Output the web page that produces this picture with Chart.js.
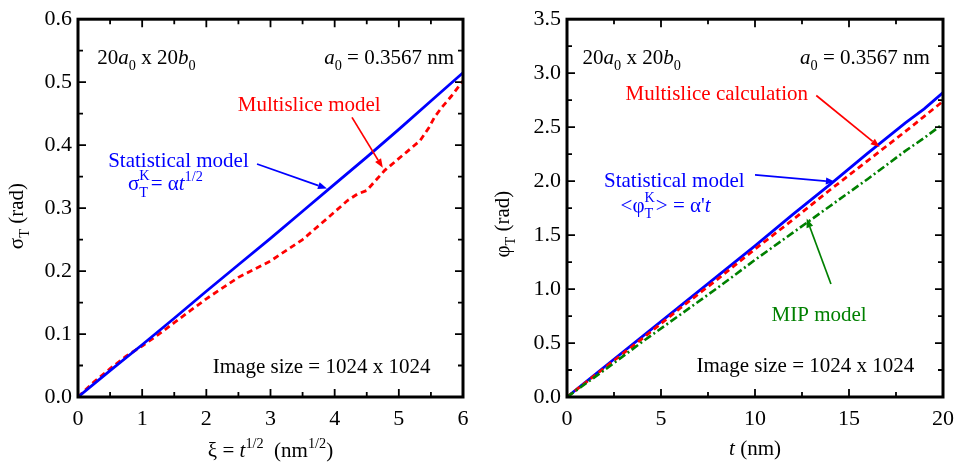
<!DOCTYPE html>
<html>
<head>
<meta charset="utf-8">
<script src="https://cdn.jsdelivr.net/npm/chart.js@4/dist/chart.umd.min.js"></script>
<style>
  html, body { margin: 0; padding: 0; background: #fff; }
  #wrap { position: relative; width: 963px; height: 470px; overflow: hidden; }
  #c1 { position: absolute; left: 0; top: 0; }
  #c2 { position: absolute; left: 480px; top: 0; }
</style>
</head>
<body>
<div id="wrap">
  <canvas id="c1" width="480" height="470"></canvas>
  <canvas id="c2" width="483" height="470"></canvas>
</div>
<script>
// ---------- Data ----------
// Left panel: sigma_T vs xi = t^(1/2)
const xiStat     = [0, 0.5, 1, 1.5, 2, 2.5, 3, 3.5, 4, 4.5, 5, 5.5, 6];
const sigmaStat  = [0, 0.042, 0.083, 0.125, 0.168, 0.210, 0.252, 0.295, 0.338, 0.381, 0.425, 0.470, 0.515];
const xiMulti    = [0, 0.25, 0.5, 0.75, 1.0, 1.25, 1.5, 1.75, 2.0, 2.5, 3.0, 3.5, 3.9, 4.2, 4.35, 4.5, 4.78, 5.12, 5.33, 5.47, 5.56, 5.67, 5.82, 6.0];
const sigmaMulti = [0, 0.024, 0.045, 0.065, 0.081, 0.099, 0.118, 0.137, 0.156, 0.190, 0.216, 0.250, 0.285, 0.312, 0.322, 0.328, 0.360, 0.389, 0.407, 0.428, 0.445, 0.460, 0.478, 0.502];

// Right panel: phi_T vs t
const tVals    = [0, 2, 4, 6, 8, 10, 12, 14, 16, 18, 19, 20];
const phiStat  = [0, 0.28, 0.56, 0.84, 1.12, 1.40, 1.69, 1.97, 2.26, 2.54, 2.67, 2.82];
const phiMulti = [0, 0.27, 0.54, 0.82, 1.09, 1.37, 1.64, 1.92, 2.19, 2.46, 2.60, 2.74];
const phiMIP   = [0, 0.25, 0.51, 0.76, 1.01, 1.27, 1.52, 1.77, 2.02, 2.28, 2.40, 2.53];

// Axis ranges / tick steps
const leftX  = { min: 0, max: 6,   step: 1,   minor: 0.5 };
const leftY  = { min: 0, max: 0.6, step: 0.1, minor: 0.05 };
const rightX = { min: 0, max: 20,  step: 5,   minor: 2.5 };
const rightY = { min: 0, max: 3.5, step: 0.5, minor: 0.25 };

// ---------- Helpers ----------
const FAMILY = '"Liberation Serif", "Times New Roman", serif';
const BLUE = '#0000ff', RED = '#ff0000', GREEN = '#008000';
const TXT = 21, TICK = 22;

function pts(xs, ys) { return xs.map((x, i) => ({ x, y: ys[i] })); }
function fontOf(size, it) { return (it ? 'italic ' : '') + size + 'px ' + FAMILY; }

// rich text: runs of {t, it, sub, sup, stack:{sub,sup}}
function measureRich(ctx, runs, size) {
  let w = 0;
  for (const r of runs) {
    if (r.stack) {
      ctx.font = fontOf(size * 0.68, false);
      w += Math.max(ctx.measureText(r.stack.sub).width, ctx.measureText(r.stack.sup).width) + 1;
    } else {
      ctx.font = fontOf((r.sub || r.sup) ? size * 0.68 : size, r.it);
      w += ctx.measureText(r.t).width;
    }
  }
  return w;
}
function drawRich(ctx, runs, x, y, align, size, color) {
  const w = measureRich(ctx, runs, size);
  let cx = align === 'right' ? x - w : align === 'center' ? x - w / 2 : x;
  ctx.fillStyle = color;
  ctx.textBaseline = 'alphabetic';
  ctx.textAlign = 'left';
  for (const r of runs) {
    if (r.stack) {
      ctx.font = fontOf(size * 0.68, false);
      const a = ctx.measureText(r.stack.sub).width;
      const b = ctx.measureText(r.stack.sup).width;
      ctx.fillText(r.stack.sub, cx, y + size * 0.32);
      ctx.fillText(r.stack.sup, cx, y - size * 0.45);
      cx += Math.max(a, b) + 1;
    } else {
      const s = (r.sub || r.sup) ? size * 0.68 : size;
      ctx.font = fontOf(s, r.it);
      const dy = r.sub ? size * 0.3 : r.sup ? -size * 0.42 : 0;
      ctx.fillText(r.t, cx, y + dy);
      cx += ctx.measureText(r.t).width;
    }
  }
}
function drawArrow(ctx, x1, y1, x2, y2, color) {
  ctx.save();
  ctx.strokeStyle = color; ctx.fillStyle = color; ctx.lineWidth = 1.7;
  const ang = Math.atan2(y2 - y1, x2 - x1);
  const hl = 9, hw = 3.5;
  const bx = x2 - hl * Math.cos(ang), by = y2 - hl * Math.sin(ang);
  ctx.beginPath(); ctx.moveTo(x1, y1); ctx.lineTo(bx, by); ctx.stroke();
  ctx.beginPath();
  ctx.moveTo(x2, y2);
  ctx.lineTo(bx + hw * Math.sin(ang), by - hw * Math.cos(ang));
  ctx.lineTo(bx - hw * Math.sin(ang), by + hw * Math.cos(ang));
  ctx.closePath(); ctx.fill();
  ctx.restore();
}

// plugin: frame, inward ticks on all sides, annotations, axis titles
const deco = {
  id: 'deco',
  afterDatasetsDraw(chart, args, o) {
    const ctx = chart.ctx, a = chart.chartArea;
    const xs = chart.scales.x, ys = chart.scales.y;
    ctx.save();
    ctx.strokeStyle = '#000';
    ctx.lineWidth = 1.8;
    const EPS = 1e-9;
    for (let i = 0, v = o.xr.min; v <= o.xr.max + EPS; v = o.xr.min + (++i) * o.xr.minor) {
      const q = (v - o.xr.min) / o.xr.step;
      const L = Math.abs(q - Math.round(q)) < 1e-6 ? 8 : 5;
      const px = xs.getPixelForValue(v);
      ctx.beginPath();
      ctx.moveTo(px, a.bottom); ctx.lineTo(px, a.bottom - L);
      ctx.moveTo(px, a.top); ctx.lineTo(px, a.top + L);
      ctx.stroke();
    }
    for (let i = 0, v = o.yr.min; v <= o.yr.max + EPS; v = o.yr.min + (++i) * o.yr.minor) {
      const q = (v - o.yr.min) / o.yr.step;
      const L = Math.abs(q - Math.round(q)) < 1e-6 ? 8 : 5;
      const py = ys.getPixelForValue(v);
      ctx.beginPath();
      ctx.moveTo(a.left, py); ctx.lineTo(a.left + L, py);
      ctx.moveTo(a.right, py); ctx.lineTo(a.right - L, py);
      ctx.stroke();
    }
    ctx.lineWidth = 3;
    ctx.strokeRect(a.left, a.top, a.right - a.left, a.bottom - a.top);

    for (const t of o.texts) {
      drawRich(ctx, t.runs, xs.getPixelForValue(t.x), ys.getPixelForValue(t.y), t.align || 'left', TXT, t.color);
    }
    for (const ar of o.arrows) {
      drawArrow(ctx, xs.getPixelForValue(ar.x1), ys.getPixelForValue(ar.y1),
                     xs.getPixelForValue(ar.x2), ys.getPixelForValue(ar.y2), ar.color);
    }
    const cxm = (a.left + a.right) / 2;
    drawRich(ctx, o.xTitle.runs, cxm + o.xTitle.dx, a.bottom + o.xTitle.dy, 'center', TXT, '#000');
    ctx.save();
    ctx.translate(a.left - o.yTitle.dx, (a.top + a.bottom) / 2 + o.yTitle.dy);
    ctx.rotate(-Math.PI / 2);
    drawRich(ctx, o.yTitle.runs, 0, 0, 'center', TXT, '#000');
    ctx.restore();
    ctx.restore();
  }
};

function baseOptions(xr, yr, yW, padRight, d) {
  return {
    responsive: false,
    animation: false,
    events: [],
    layout: { autoPadding: false, padding: { left: 0, right: padRight, top: 16, bottom: 0 } },
    plugins: { legend: { display: false }, tooltip: { enabled: false }, deco: Object.assign({ xr, yr }, d) },
    elements: { point: { radius: 0 }, line: { tension: 0 } },
    scales: {
      x: {
        type: 'linear', min: xr.min, max: xr.max,
        grid: { display: false, drawTicks: false }, border: { display: false },
        ticks: { stepSize: xr.step, padding: 9, color: '#000', font: { family: FAMILY, size: TICK },
                 callback: v => String(v) },
        afterFit: s => { s.height = 73; }
      },
      y: {
        type: 'linear', min: yr.min, max: yr.max,
        grid: { display: false, drawTicks: false }, border: { display: false },
        ticks: { stepSize: yr.step, padding: 6, color: '#000', font: { family: FAMILY, size: TICK },
                 callback: v => Number(v).toFixed(1) },
        afterFit: s => { s.width = yW; }
      }
    }
  };
}

// ---------- Left chart ----------
new Chart(document.getElementById('c1'), {
  type: 'line',
  data: {
    datasets: [
      { data: pts(xiStat, sigmaStat), borderColor: BLUE, borderWidth: 2.8, fill: false },
      { data: pts(xiMulti, sigmaMulti), borderColor: RED, borderWidth: 2.8, borderDash: [6, 4], fill: false }
    ]
  },
  options: baseOptions(leftX, leftY, 78, 17, {
    texts: [
      { x: 0.30, y: 0.529, color: '#000', runs: [{ t: '20' }, { t: 'a', it: true }, { t: '0', sub: true }, { t: ' x 20' }, { t: 'b', it: true }, { t: '0', sub: true }] },
      { x: 5.86, y: 0.529, color: '#000', align: 'right', runs: [{ t: 'a', it: true }, { t: '0', sub: true }, { t: ' = 0.3567 nm' }] },
      { x: 2.49, y: 0.455, color: RED, runs: [{ t: 'Multislice model' }] },
      { x: 0.47, y: 0.365, color: BLUE, runs: [{ t: 'Statistical model' }] },
      { x: 0.78, y: 0.329, color: BLUE, runs: [{ t: 'σ' }, { stack: { sub: 'T', sup: 'K' } }, { t: '= α' }, { t: 't', it: true }, { t: '1/2', sup: true }] },
      { x: 2.10, y: 0.038, color: '#000', runs: [{ t: 'Image size = 1024 x 1024' }] }
    ],
    arrows: [
      { x1: 4.27, y1: 0.444, x2: 4.75, y2: 0.364, color: RED },
      { x1: 2.79, y1: 0.370, x2: 3.88, y2: 0.331, color: BLUE }
    ],
    xTitle: { dx: 0, dy: 60, runs: [{ t: 'ξ = ' }, { t: 't', it: true }, { t: '1/2', sup: true }, { t: '  (nm' }, { t: '1/2', sup: true }, { t: ')' }] },
    yTitle: { dx: 55, dy: 8, runs: [{ t: 'σ' }, { t: 'T', sub: true }, { t: ' (rad)' }] }
  }),
  plugins: [deco]
});

// ---------- Right chart ----------
new Chart(document.getElementById('c2'), {
  type: 'line',
  data: {
    datasets: [
      { data: pts(tVals, phiMIP), borderColor: GREEN, borderWidth: 2.6, borderDash: [8, 3, 2, 3], fill: false },
      { data: pts(tVals, phiMulti), borderColor: RED, borderWidth: 2.8, borderDash: [6, 4], fill: false },
      { data: pts(tVals, phiStat), borderColor: BLUE, borderWidth: 2.8, fill: false }
    ]
  },
  options: baseOptions(rightX, rightY, 87, 10, {
    texts: [
      { x: 0.83, y: 3.087, color: '#000', runs: [{ t: '20' }, { t: 'a', it: true }, { t: '0', sub: true }, { t: ' x 20' }, { t: 'b', it: true }, { t: '0', sub: true }] },
      { x: 19.3, y: 3.087, color: '#000', align: 'right', runs: [{ t: 'a', it: true }, { t: '0', sub: true }, { t: ' = 0.3567 nm' }] },
      { x: 3.11, y: 2.756, color: RED, runs: [{ t: 'Multislice calculation' }] },
      { x: 1.97, y: 1.947, color: BLUE, runs: [{ t: 'Statistical model' }] },
      { x: 2.85, y: 1.718, color: BLUE, runs: [{ t: '<φ' }, { stack: { sub: 'T', sup: 'K' } }, { t: '> = α\'' }, { t: 't', it: true }] },
      { x: 10.88, y: 0.707, color: GREEN, runs: [{ t: 'MIP model' }] },
      { x: 6.89, y: 0.23, color: '#000', runs: [{ t: 'Image size = 1024 x 1024' }] }
    ],
    arrows: [
      { x1: 13.26, y1: 2.793, x2: 16.63, y2: 2.315, color: RED },
      { x1: 10.0, y1: 2.058, x2: 14.25, y2: 1.993, color: BLUE },
      { x1: 14.04, y1: 1.047, x2: 12.75, y2: 1.653, color: GREEN }
    ],
    xTitle: { dx: 0, dy: 58, runs: [{ t: 't', it: true }, { t: ' (nm)' }] },
    yTitle: { dx: 58, dy: 16, runs: [{ t: 'φ' }, { t: 'T', sub: true }, { t: ' (rad)' }] }
  }),
  plugins: [deco]
});
</script>
</body>
</html>
